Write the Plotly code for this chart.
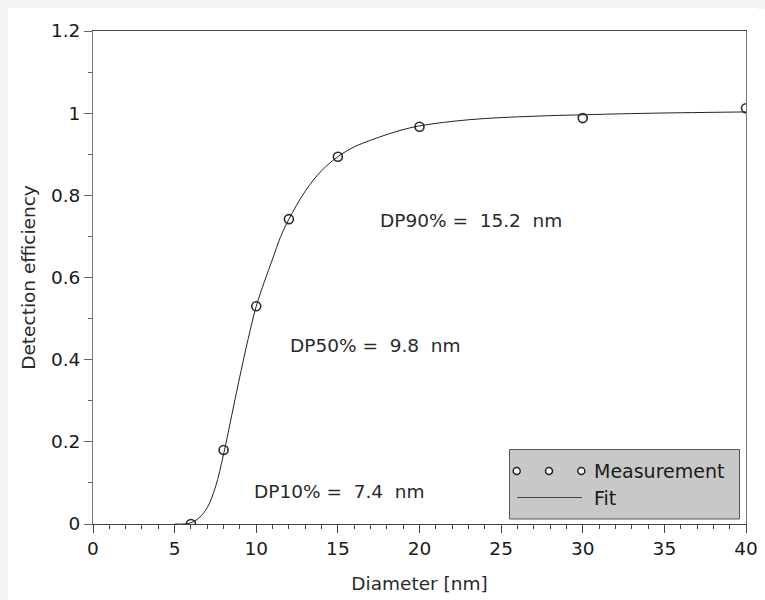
import plotly.graph_objects as go

# Measured detection efficiency
meas_d = [6, 8, 10, 12, 15, 20, 30, 40]
meas_eff = [0.0, 0.18, 0.53, 0.742, 0.894, 0.967, 0.988, 1.012]

# Fit curve
fit_d = [5, 5.5, 6, 6.5, 7, 7.5, 8, 8.5, 9, 9.5, 10, 10.5, 11, 11.5, 12,
         13, 14, 15, 16, 17, 18, 19, 20, 22, 24, 26, 28, 30, 33, 36, 40]
fit_eff = [0.0, 0.0, 0.003, 0.015, 0.04, 0.09, 0.17, 0.265, 0.36, 0.45, 0.53,
           0.59, 0.645, 0.70, 0.742, 0.81, 0.86, 0.894, 0.918, 0.934, 0.948,
           0.96, 0.969, 0.98, 0.987, 0.991, 0.994, 0.996, 0.999, 1.001, 1.003]

# Annotation labels
dp_labels = ["DP90% =\u00a0\u00a015.2\u00a0\u00a0nm", "DP50% =\u00a0\u00a09.8\u00a0\u00a0nm",
             "DP10% =\u00a0\u00a07.4\u00a0\u00a0nm"]
dp_label_x = [17.45, 11.96, 9.72]
dp_label_y = [0.738, 0.434, 0.08]

x_ticks = [0, 5, 10, 15, 20, 25, 30, 35, 40]
y_ticks = [0, 0.2, 0.4, 0.6, 0.8, 1.0, 1.2]

FONT = "DejaVu Sans"
FS = 18.5
W, H = 765, 600
OFF = 8  # page body margin
L, R, T, B = 85, 27, 23, 84
PW, PH = W - L - R, H - T - B


def px(xp):  # page pixel -> paper fraction
    return (xp - OFF - L) / PW


def py(yp):
    return (H - B - (yp - OFF)) / PH


fig = go.Figure()
fig.add_trace(go.Scatter(
    x=meas_d, y=meas_eff, mode="markers", name="Measurement",
    marker=dict(symbol="circle-open", size=9, color="#2a2a2a", line=dict(width=1.6)),
    showlegend=False,
))
fig.add_trace(go.Scatter(
    x=fit_d, y=fit_eff, mode="lines", name="Fit", line_shape="spline",
    line=dict(color="#222222", width=1), showlegend=False,
))

annotations = []
for t, x, y in zip(dp_labels, dp_label_x, dp_label_y):
    annotations.append(dict(x=x, y=y, xref="x", yref="y", text=t, showarrow=False,
                            xanchor="left", yanchor="middle",
                            font=dict(family=FONT, size=FS, color="#2a2a2a")))

shapes = []
# custom legend box
shapes.append(dict(type="rect", xref="paper", yref="paper",
                   x0=px(509.5), x1=px(739.5), y0=py(519), y1=py(449.5),
                   fillcolor="#c8c8c8", line=dict(color="#555555", width=1), layer="above"))
for lx in [516.7, 549, 581.3]:
    shapes.append(dict(type="circle", xref="paper", yref="paper",
                       xsizemode="pixel", ysizemode="pixel",
                       xanchor=px(lx), yanchor=py(471),
                       x0=-3.5, x1=3.5, y0=-3.5, y1=3.5,
                       fillcolor="white", line=dict(color="#222222", width=1.5),
                       layer="above"))
shapes.append(dict(type="line", xref="paper", yref="paper",
                   x0=px(517), x1=px(582), y0=py(497.5), y1=py(497.5),
                   line=dict(color="#444444", width=1), layer="above"))
annotations.append(dict(x=px(592), y=py(471), xref="paper", yref="paper",
                        text="Measurement", showarrow=False, xanchor="left", yanchor="middle",
                        font=dict(family=FONT, size=19, color="#1a1a1a")))
annotations.append(dict(x=px(592), y=py(498), xref="paper", yref="paper",
                        text="Fit", showarrow=False, xanchor="left", yanchor="middle",
                        font=dict(family=FONT, size=19, color="#1a1a1a")))

fig.update_layout(
    width=W, height=H,
    margin=dict(l=L, r=R, t=T, b=B, pad=0),
    paper_bgcolor="white", plot_bgcolor="white",
    font=dict(family=FONT, size=FS, color="#1a1a1a"),
    annotations=annotations, shapes=shapes,
    showlegend=False,
)
fig.update_xaxes(
    range=[0, 40], tickvals=x_ticks, ticks="outside", ticklen=8, tickcolor="#444444",
    showline=True, linecolor="#444444", linewidth=1, mirror=True,
    showgrid=False, zeroline=False,
    minor=dict(dtick=1, ticks="outside", ticklen=4, tickcolor="#444444"),
    title=dict(text="Diameter [nm]", standoff=18, font=dict(size=FS, color="#2a2a2a")),
    tickfont=dict(size=FS, color="#1a1a1a"),
)
fig.update_yaxes(
    range=[0, 1.2], tickvals=y_ticks, ticks="outside", ticklen=8, tickcolor="#666666",
    showline=True, linecolor="#777777", linewidth=1, mirror=True,
    showgrid=False, zeroline=False,
    minor=dict(dtick=0.1, ticks="outside", ticklen=4, tickcolor="#666666"),
    title=dict(text="Detection efficiency", standoff=10, font=dict(size=FS, color="#2a2a2a")),
    tickfont=dict(size=FS, color="#1a1a1a"),
)

fig.write_html(
    "out.html",
    post_script=("document.body.style.background='linear-gradient(#f4f3f1 9px, transparent 9px),"
                 " linear-gradient(to right, #f4f3f1 8px, #ffffff 8px)';"),
)
